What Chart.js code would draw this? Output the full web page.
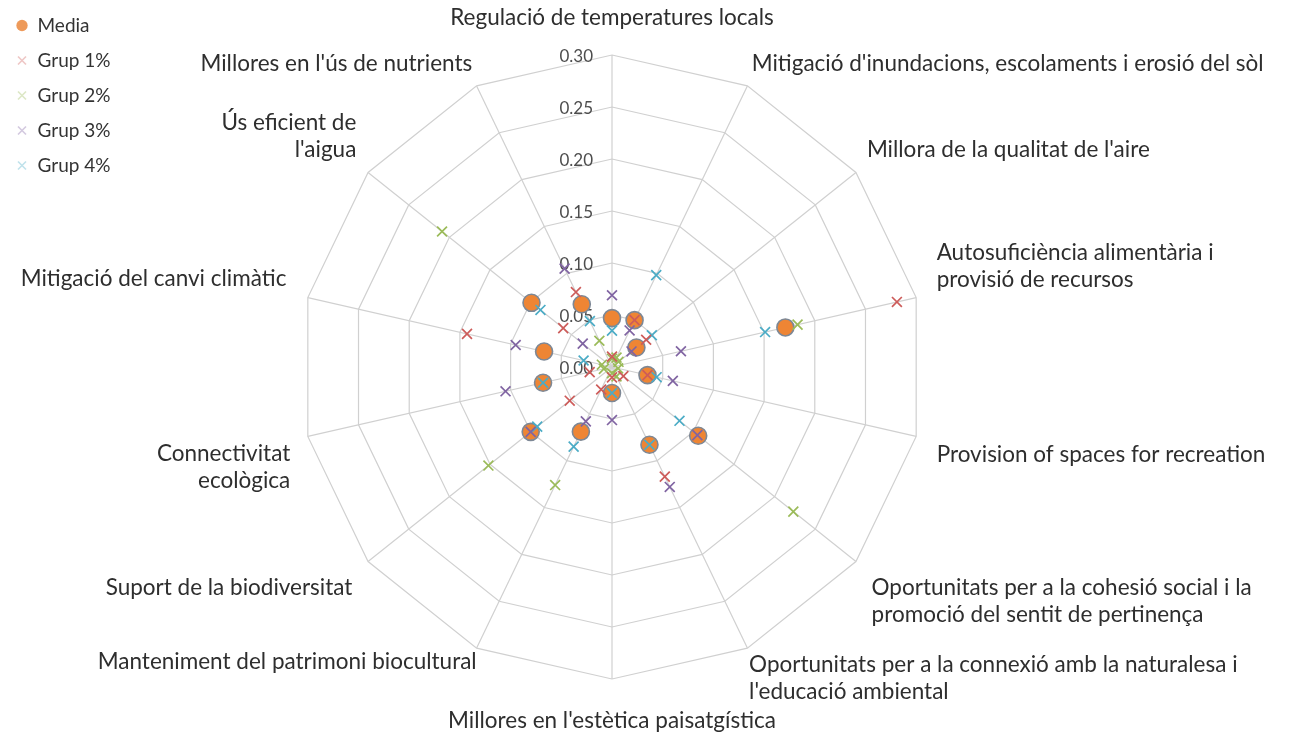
<!DOCTYPE html>
<html lang="ca">
<head>
<meta charset="utf-8">
<title>Serveis ecosistèmics - radar</title>
<script src="https://cdn.jsdelivr.net/npm/chart.js@4.4.1/dist/chart.umd.min.js"></script>
<style>
  html, body { margin: 0; padding: 0; background: #ffffff; }
  #wrap { width: 1294px; height: 736px; position: relative; }
</style>
</head>
<body>
<div id="wrap"><canvas id="chart"></canvas></div>
<script>
// categories, clockwise from the top
const categories = [
  'Regulació de temperatures locals',
  "Mitigació d'inundacions, escolaments i erosió del sòl",
  "Millora de la qualitat de l'aire",
  ['Autosuficiència alimentària i', 'provisió de recursos'],
  'Provision of spaces for recreation',
  ['Oportunitats per a la cohesió social i la', 'promoció del sentit de pertinença'],
  ['Oportunitats per a la connexió amb la naturalesa i', "l'educació ambiental"],
  "Millores en l'estètica paisatgística",
  'Manteniment del patrimoni biocultural',
  'Suport de la biodiversitat',
  ['Connectivitat', 'ecològica'],
  'Mitigació del canvi climàtic',
  ['Ús eficient de', "l'aigua"],
  "Millores en l'ús de nutrients"
];

const media = [0.047, 0.050, 0.030, 0.171, 0.035, 0.106, 0.083, 0.025, 0.069, 0.100, 0.068, 0.067, 0.099, 0.067];
const grup1 = [0.010, 0.050, 0.042, 0.281, 0.035, 0.014, 0.117, 0.010, 0.024, 0.052, 0.022, 0.143, 0.060, 0.080];
const grup2 = [0.008, 0.010, 0.008, 0.183, 0.006, 0.223, 0.010, 0.006, 0.126, 0.152, 0.008, 0.010, 0.209, 0.028];
const grup3 = [0.069, 0.039, 0.024, 0.068, 0.060, 0.105, 0.128, 0.051, 0.058, 0.100, 0.105, 0.095, 0.036, 0.105];
const grup4 = [0.035, 0.098, 0.049, 0.151, 0.044, 0.083, 0.083, 0.025, 0.085, 0.092, 0.068, 0.028, 0.088, 0.049];

const seriesNames = ['Media', 'Grup 1%', 'Grup 2%', 'Grup 3%', 'Grup 4%'];

// look
const FONT = 'Lato, "Open Sans", sans-serif';
const markerColors = ['#ee8534', '#cd5c5a', '#9bbb59', '#8064a2', '#4bacc6'];
const legendMarkerColors = ['#ee9a5a', 'rgba(205,92,90,0.35)', 'rgba(155,187,89,0.35)', 'rgba(128,100,162,0.35)', 'rgba(75,172,198,0.35)'];
const labelPadding = [24, 10, 14, 21, 21, 20, 4, 28, 0, 20, 18, 22, 15, 10];
const radarLayout = { cx: 612, cy: 367, radius: 312 };

function crossSet(i, values) {
  return {
    label: seriesNames[i],
    data: values,
    order: 0,
    showLine: false,
    fill: false,
    pointStyle: 'crossRot',
    pointRadius: 7,
    pointHoverRadius: 7,
    pointBorderWidth: 1.7,
    pointBorderColor: markerColors[i],
    pointBackgroundColor: markerColors[i],
    borderColor: markerColors[i],
    backgroundColor: markerColors[i]
  };
}

// value labels on the vertical spoke, right-aligned just left of it
const tickLabels = {
  id: 'tickLabels',
  beforeDatasetsDraw(chart) {
    const r = chart.scales.r;
    const ctx = chart.ctx;
    ctx.save();
    ctx.font = '17px ' + FONT;
    ctx.fillStyle = '#4d4d4d';
    ctx.textAlign = 'right';
    ctx.textBaseline = 'middle';
    r.ticks.forEach(t => {
      const d = r.getDistanceFromCenterForValue(t.value);
      ctx.fillText(t.value.toFixed(2), r.xCenter - 19, r.yCenter - d + 2);
    });
    ctx.restore();
  }
};

function draw() {
  const datasets = [
    {
      label: seriesNames[0],
      data: media,
      order: 1,
      showLine: false,
      fill: false,
      pointStyle: 'circle',
      pointRadius: 8.5,
      pointHoverRadius: 8.5,
      pointBorderWidth: 1.6,
      pointBorderColor: '#7d8896',
      pointBackgroundColor: markerColors[0],
      borderColor: '#7d8896',
      backgroundColor: markerColors[0]
    },
    crossSet(1, grup1),
    crossSet(2, grup2),
    crossSet(3, grup3),
    crossSet(4, grup4)
  ];

  new Chart(document.getElementById('chart'), {
    type: 'radar',
    data: { labels: categories, datasets: datasets },
    plugins: [tickLabels],
    options: {
      responsive: true,
      maintainAspectRatio: false,
      animation: false,
      layout: { padding: { top: 10, left: 0 } },
      plugins: {
        tooltip: { enabled: false },
        legend: {
          position: 'chartArea',
          align: 'start',
          labels: {
            usePointStyle: true,
            boxWidth: 12,
            boxHeight: 8,
            padding: 16,
            color: '#333333',
            font: { family: FONT, size: 19 },
            sort: (a, b) => a.datasetIndex - b.datasetIndex,
            generateLabels(chart) {
              const items = Chart.defaults.plugins.legend.labels.generateLabels(chart);
              items.forEach(it => {
                const c = legendMarkerColors[it.datasetIndex];
                it.strokeStyle = c;
                it.fillStyle = c;
                it.lineWidth = it.datasetIndex === 0 ? 0 : 1.6;
              });
              return items;
            }
          }
        }
      },
      scales: {
        r: {
          min: 0,
          max: 0.3,
          ticks: { stepSize: 0.05, display: false },
          grid: { color: '#d0d0d0', lineWidth: 1.2 },
          angleLines: { color: '#d0d0d0', lineWidth: 1.2 },
          pointLabels: {
            color: '#2e2e2e',
            font: { family: FONT, size: 22.5 },
            padding: ctx => labelPadding[ctx.index]
          },
          // keep the polygon where it sits in the original
          beforeFit(scale) {
            scale.setCenterPoint = function () {
              this.xCenter = radarLayout.cx;
              this.yCenter = radarLayout.cy;
              this.drawingArea = radarLayout.radius;
            };
          }
        }
      }
    }
  });
}

if (document.fonts && document.fonts.load) {
  Promise.all([document.fonts.load('22px Lato'), document.fonts.load('17px Lato')]).then(draw, draw);
} else {
  draw();
}
</script>
</body>
</html>
